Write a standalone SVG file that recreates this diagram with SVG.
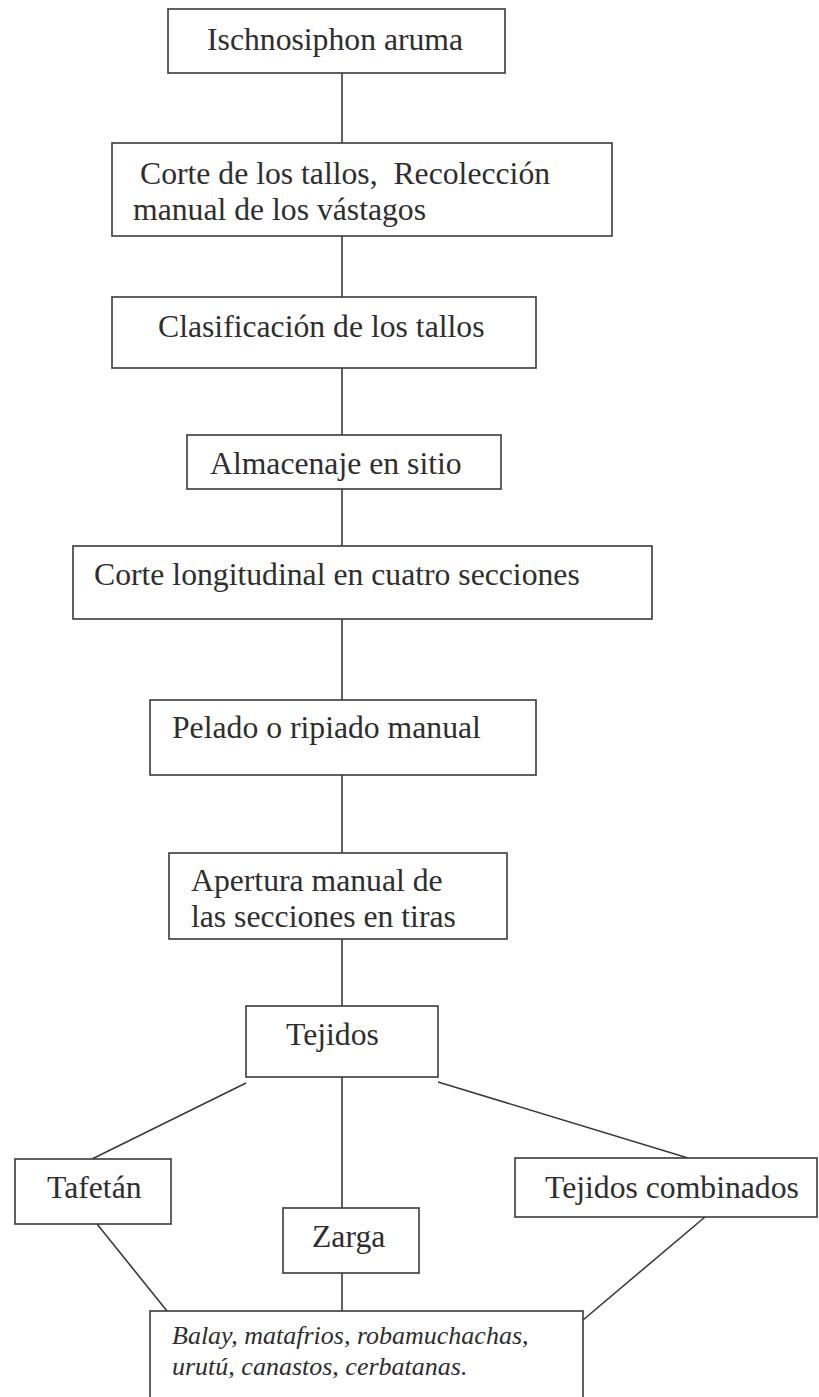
<svg xmlns="http://www.w3.org/2000/svg" width="819" height="1397" viewBox="0 0 819 1397">
<style>
.box{fill:#fff;stroke:#3a3a3a;stroke-width:1.6}
.t{font-family:"Liberation Serif","Times New Roman",serif;font-size:31.7px;fill:#2e2e2e}
.it{font-family:"Liberation Serif","Times New Roman",serif;font-size:26px;font-style:italic;fill:#2e2e2e}
.c{stroke:#3a3a3a;stroke-width:1.6;fill:none}
</style>
<rect width="819" height="1397" fill="#fff"/>
<g id="connectors">
<line class="c" x1="342" y1="73" x2="342" y2="143"/>
<line class="c" x1="342" y1="236" x2="342" y2="297"/>
<line class="c" x1="342" y1="368" x2="342" y2="435"/>
<line class="c" x1="342" y1="489" x2="342" y2="546"/>
<line class="c" x1="342" y1="619" x2="342" y2="700"/>
<line class="c" x1="342" y1="775" x2="342" y2="853"/>
<line class="c" x1="342" y1="939" x2="342" y2="1006"/>
<line class="c" x1="342" y1="1077" x2="342" y2="1208"/>
<line class="c" x1="342" y1="1273" x2="342" y2="1311"/>
<line class="c" x1="246" y1="1083" x2="92" y2="1159"/>
<line class="c" x1="438" y1="1082" x2="688" y2="1158"/>
<line class="c" x1="97" y1="1224" x2="167" y2="1311"/>
<line class="c" x1="705" y1="1217" x2="583" y2="1320"/>
</g>
<g id="n1"><rect class="box" x="168" y="9" width="337" height="64"/><text class="t" x="207" y="50">Ischnosiphon aruma</text></g>
<g id="n2"><rect class="box" x="112" y="143" width="500" height="93"/><text class="t" x="140" y="184">Corte de los tallos,&#160; Recolección</text><text class="t" x="133" y="220">manual de los vástagos</text></g>
<g id="n3"><rect class="box" x="112" y="297" width="424" height="71"/><text class="t" x="158" y="337">Clasificación de los tallos</text></g>
<g id="n4"><rect class="box" x="187" y="435" width="314" height="54"/><text class="t" x="210" y="474">Almacenaje en sitio</text></g>
<g id="n5"><rect class="box" x="73" y="546" width="579" height="73"/><text class="t" x="94" y="585">Corte longitudinal en cuatro secciones</text></g>
<g id="n6"><rect class="box" x="150" y="700" width="386" height="75"/><text class="t" x="172" y="738">Pelado o ripiado manual</text></g>
<g id="n7"><rect class="box" x="169" y="853" width="338" height="86"/><text class="t" x="191" y="891">Apertura manual de</text><text class="t" x="191" y="927">las secciones en tiras</text></g>
<g id="n8"><rect class="box" x="246" y="1006" width="192" height="71"/><text class="t" x="286" y="1045">Tejidos</text></g>
<g id="n9"><rect class="box" x="15" y="1159" width="156" height="65"/><text class="t" x="47" y="1198">Tafetán</text></g>
<g id="n10"><rect class="box" x="283" y="1208" width="136" height="65"/><text class="t" x="312" y="1247">Zarga</text></g>
<g id="n11"><rect class="box" x="515" y="1158" width="302" height="59"/><text class="t" x="545" y="1198">Tejidos combinados</text></g>
<g id="n12"><rect class="box" x="150" y="1311" width="433" height="100"/><text class="it" x="172" y="1344">Balay, matafrios, robamuchachas,</text><text class="it" x="172" y="1375">urutú, canastos, cerbatanas.</text></g>
</svg>
